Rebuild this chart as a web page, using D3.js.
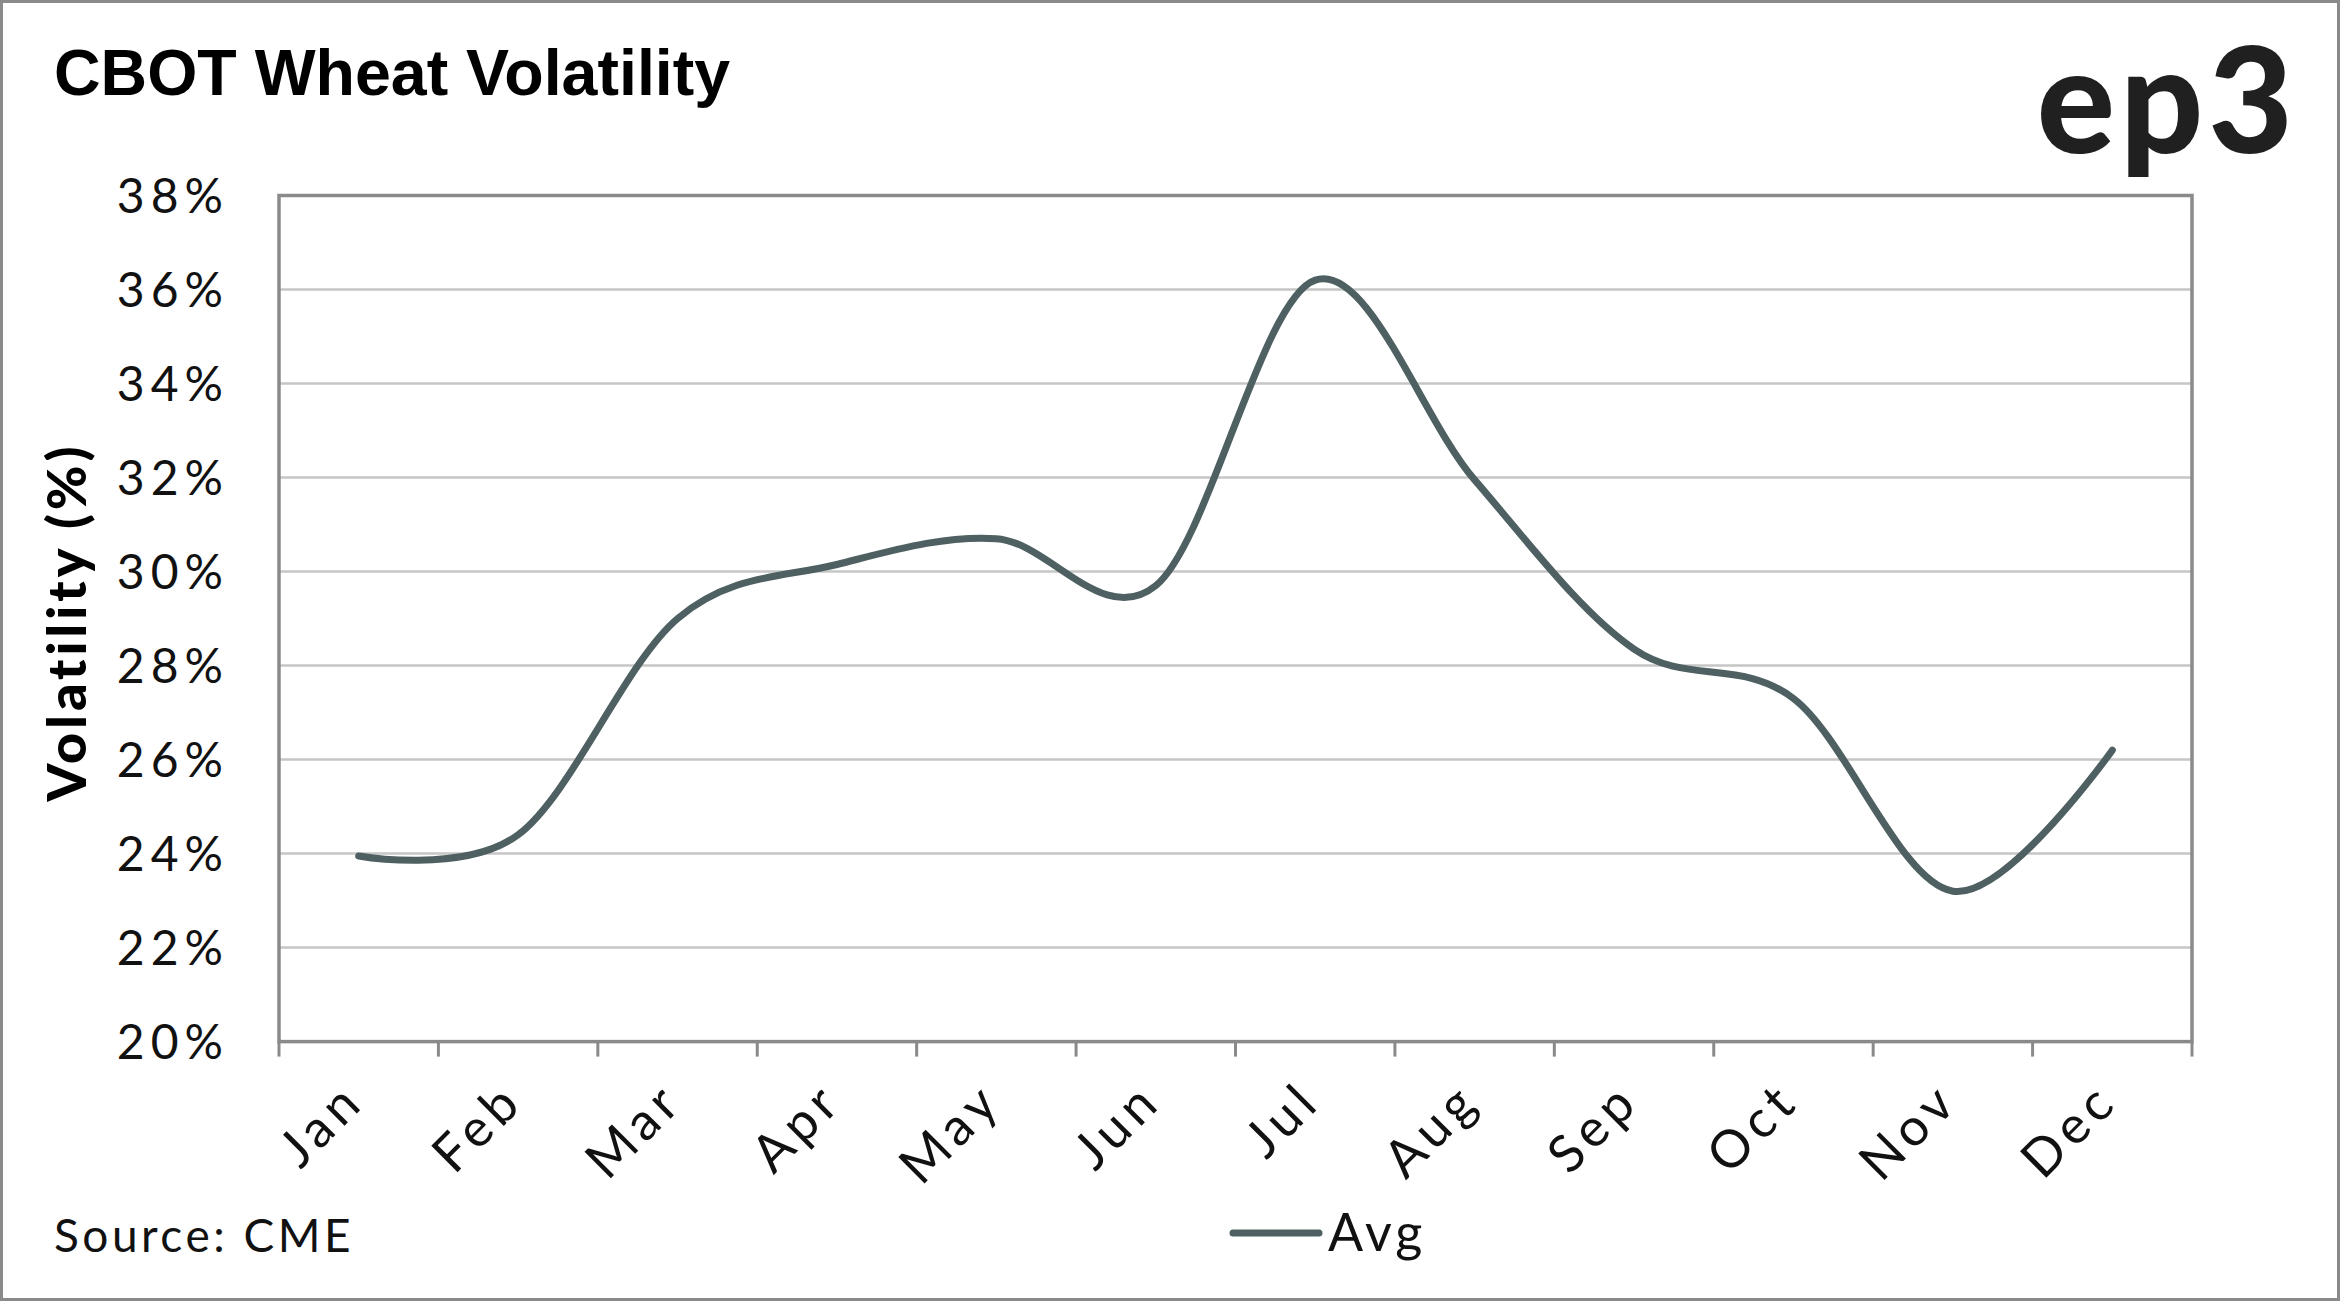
<!DOCTYPE html>
<html>
<head>
<meta charset="utf-8">
<script src="https://cdn.jsdelivr.net/npm/d3@7"></script>
<style>
  html, body { margin: 0; padding: 0; background: #fff; }
  svg { display: block; }
</style>
</head>
<body>
<script>
const months = ["Jan","Feb","Mar","Apr","May","Jun","Jul","Aug","Sep","Oct","Nov","Dec"];
const avgValues = [23.95, 24.4, 29.0, 30.15, 30.7, 29.7, 36.2, 31.95, 28.35, 27.3, 23.2, 26.2];
const yTicks = [20, 22, 24, 26, 28, 30, 32, 34, 36, 38];
const titleText = "CBOT Wheat Volatility";
const yAxisTitle = "Volatility (%)";
const sourceText = "Source: CME";
const seriesName = "Avg";
const logoText = "ep3";

const W = 2340, H = 1301;
const m = { left: 279, top: 195.5, right: 2192, bottom: 1041.6 };
const lineColor = "#4e6062";
const font = "Lato, 'Noto Sans', sans-serif";

const svg = d3.select("body").append("svg").attr("width", W).attr("height", H);

// outer frame
svg.append("rect").attr("x", 1.5).attr("y", 1.5).attr("width", W - 3).attr("height", H - 3)
  .attr("fill", "#fff").attr("stroke", "#8a8a8a").attr("stroke-width", 3);

const x = d3.scaleBand().domain(months).range([m.left, m.right]);
const y = d3.scaleLinear().domain([20, 38]).range([m.bottom, m.top]);

// gridlines
svg.append("g").selectAll("line").data(yTicks.filter(t => t > 20 && t < 38)).join("line")
  .attr("x1", m.left).attr("x2", m.right)
  .attr("y1", d => y(d)).attr("y2", d => y(d))
  .attr("stroke", "#c6c6c6").attr("stroke-width", 2.5);

// y axis labels
const yAxis = d3.axisLeft(y).tickValues(yTicks).tickFormat(d => d + "%").tickSize(0).tickPadding(50);
const gy = svg.append("g").attr("transform", `translate(${m.left},0)`).call(yAxis);
gy.select(".domain").remove();
gy.selectAll("text").attr("font-family", font).attr("font-size", 48).attr("fill", "#111")
  .attr("letter-spacing", 6).attr("dy", "0.36em");

// x axis ticks (at category boundaries)
const boundaries = months.map(mo => x(mo)).concat([m.right]);
svg.append("g").selectAll("line").data(boundaries).join("line")
  .attr("x1", d => d).attr("x2", d => d)
  .attr("y1", m.bottom).attr("y2", m.bottom + 15)
  .attr("stroke", "#8a8a8a").attr("stroke-width", 3);

// plot frame
svg.append("rect").attr("x", m.left).attr("y", m.top)
  .attr("width", m.right - m.left).attr("height", m.bottom - m.top)
  .attr("fill", "none").attr("stroke", "#8a8a8a").attr("stroke-width", 3.5);

// x labels
const xAxis = d3.axisBottom(x).tickSize(0).tickPadding(0);
const gx = svg.append("g").attr("transform", `translate(0,${m.bottom})`).call(xAxis);
gx.select(".domain").remove();
gx.selectAll("text")
  .attr("font-family", font).attr("font-size", 52).attr("fill", "#111")
  .attr("letter-spacing", 6)
  .attr("text-anchor", "end")
  .attr("dy", null).attr("y", null)
  .attr("transform", "translate(8,62) rotate(-45)");

// line
const line = d3.line()
  .x((d, i) => x(months[i]) + x.bandwidth() / 2)
  .y(d => y(d))
  .curve(d3.curveCardinal.tension(0));
svg.append("path").datum(avgValues)
  .attr("d", line)
  .attr("fill", "none").attr("stroke", lineColor).attr("stroke-width", 7)
  .attr("stroke-linecap", "round").attr("stroke-linejoin", "round");

// title
svg.append("text").attr("x", 54).attr("y", 95).text(titleText)
  .attr("font-family", "'Liberation Sans', Arial, sans-serif").attr("font-weight", "bold")
  .attr("font-size", 64.5).attr("fill", "#000");

// y axis title
svg.append("text").attr("transform", "translate(86,622) rotate(-90)")
  .attr("text-anchor", "middle").text(yAxisTitle)
  .attr("font-family", font).attr("font-weight", 900).attr("font-size", 54)
  .attr("letter-spacing", 4).attr("fill", "#000");

// logo
svg.append("text").attr("x", 2298).attr("y", 153).attr("text-anchor", "end").text(logoText)
  .attr("font-family", font).attr("font-weight", 900).attr("font-size", 146)
  .attr("letter-spacing", 5).attr("fill", "#202020");

// source
svg.append("text").attr("x", 54).attr("y", 1252).text(sourceText)
  .attr("font-family", font).attr("font-size", 46).attr("letter-spacing", 3.5).attr("fill", "#111");

// legend
svg.append("line").attr("x1", 1233).attr("x2", 1319).attr("y1", 1233).attr("y2", 1233)
  .attr("stroke", lineColor).attr("stroke-width", 7).attr("stroke-linecap", "round");
svg.append("text").attr("x", 1328).attr("y", 1251).text(seriesName)
  .attr("font-family", font).attr("font-size", 52).attr("letter-spacing", 4).attr("fill", "#111");
</script>
</body>
</html>
